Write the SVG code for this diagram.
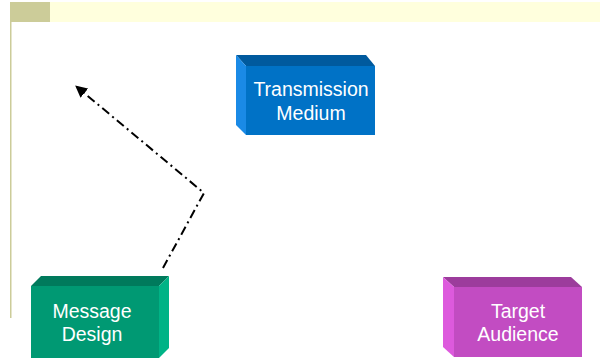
<svg xmlns="http://www.w3.org/2000/svg" width="600" height="358" viewBox="0 0 600 358">
  <style>
    .lbl { font-family: "Liberation Sans", Arial, sans-serif; font-size: 19.5px; fill: #ffffff; text-anchor: middle; }
    .conn { fill: none; stroke: #000000; stroke-width: 2; stroke-dasharray: 9 4 2 4; }
  </style>
  <defs>
    <marker id="arrow" viewBox="0 0 10 10" refX="8" refY="5" markerWidth="6" markerHeight="6" orient="auto" markerUnits="strokeWidth">
      <path d="M0,0 L10,5 L0,10 z" fill="#000000"/>
    </marker>
  </defs>

  <!-- page header band and left rule -->
  <g id="header">
    <rect x="50" y="2" width="550" height="20" fill="#ffffdd"/>
    <rect x="10" y="2" width="40" height="20" fill="#cccc99"/>
    <rect x="10" y="22" width="1.5" height="296" fill="#cccc99"/>
  </g>

  <!-- Transmission Medium block (side face on the left) -->
  <g id="transmission-medium">
    <polygon points="236,55 366,55 375,66 246,66" fill="#005a9e"/>
    <polygon points="236,55 246,66 246,135 236,125" fill="#1a8ae6"/>
    <rect x="246" y="66" width="129" height="69" fill="#0072c6"/>
    <text class="lbl" x="311" y="96">Transmission</text>
    <text class="lbl" x="311" y="120">Medium</text>
  </g>

  <!-- Message Design block (side face on the right) -->
  <g id="message-design">
    <polygon points="41,276 169,276 159,286 31,286" fill="#007a5c"/>
    <polygon points="169,276 169,348 159,358 159,286" fill="#00b386"/>
    <rect x="31" y="286" width="128" height="72" fill="#009973"/>
    <text class="lbl" x="92" y="318">Message</text>
    <text class="lbl" x="92" y="341">Design</text>
  </g>

  <!-- Target Audience block (side face on the left) -->
  <g id="target-audience">
    <polygon points="443,277 571,277 582,287 454,287" fill="#9c3c9c"/>
    <polygon points="443,277 454,287 454,357 443,347" fill="#dd5add"/>
    <rect x="454" y="287" width="128" height="70" fill="#c24cc2"/>
    <text class="lbl" x="518" y="318">Target</text>
    <text class="lbl" x="518" y="341">Audience</text>
  </g>

  <!-- connectors -->
  <g id="connectors">
    <polyline class="conn" points="163,268 204,193 77,87" marker-end="url(#arrow)"/>
  </g>
</svg>
